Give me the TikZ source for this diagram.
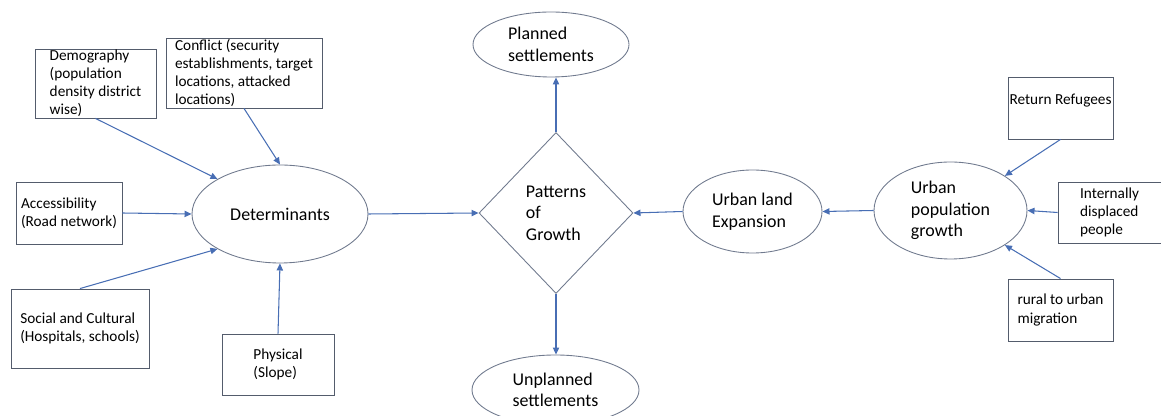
\documentclass[tikz,border=0pt]{standalone}
\usepackage{fontspec}
\setmainfont{Carlito}
\usepackage{tikz}
\usetikzlibrary{shapes.geometric}
\usetikzlibrary{arrows.meta}
\definecolor{boxline}{RGB}{84,92,108}
\definecolor{ovalline}{RGB}{112,122,142}
\definecolor{flowblue}{RGB}{72,110,180}

\begin{document}
\begin{tikzpicture}[
  flow/.style={draw=flowblue,line width=0.6pt,-{Triangle[length=4pt,width=3.6pt]}},
  factor/.style={draw=boxline,line width=0.5pt,rectangle,inner sep=0pt,align=left,
    font=\fontsize{8.7}{10.3}\selectfont},
  oval/.style={draw=ovalline,line width=0.5pt,ellipse,inner sep=0pt,align=left,
    font=\fontsize{10.2}{12.3}\selectfont},
  choice/.style={draw=ovalline,line width=0.5pt,diamond,inner sep=0pt,align=left,
    font=\fontsize{10.2}{12.3}\selectfont}
]
  \useasboundingbox (0,0) rectangle (23.22,8.32);

  \node[factor, minimum width=2.42cm, minimum height=1.38cm] (demog) at (1.91, 6.65)
    {Demography\\(population\\density district\\wise)};
  \node[factor, minimum width=3.12cm, minimum height=1.40cm] (conflict) at (4.88, 6.86)
    {Conflict (security\\establishments, target\\locations, attacked\\locations)};
  \node[factor, minimum width=2.12cm, minimum height=1.24cm] (access) at (1.38, 4.06)
    {Accessibility\\(Road network)};
  \node[factor, minimum width=2.76cm, minimum height=1.58cm] (social) at (1.60, 1.75)
    {Social and Cultural\\(Hospitals, schools)};
  \node[factor, minimum width=2.24cm, minimum height=1.22cm] (phys) at (5.56, 1.03)
    {Physical\\(Slope)};

  \node[oval, minimum width=3.52cm, minimum height=1.96cm] (det) at (5.60, 4.04)
    {Determinants};
  \node[choice, minimum width=3.08cm, minimum height=3.22cm] (pat) at (11.12, 4.06)
    {Patterns\\of\\Growth};
  \node[oval, minimum width=3.12cm, minimum height=1.30cm] (plan) at (11.02, 7.43)
    {Planned\\settlements};
  \node[oval, minimum width=3.34cm, minimum height=1.40cm] (unplan) at (11.11, 0.52)
    {Unplanned\\settlements};
  \node[oval, minimum width=2.78cm, minimum height=1.66cm] (land) at (15.05, 4.09)
    {Urban land\\Expansion};
  \node[oval, minimum width=3.06cm, minimum height=1.94cm] (pop) at (19.01, 4.11)
    {Urban\\population\\growth};

  \node[factor, minimum width=2.10cm, minimum height=1.24cm] (ret) at (21.21, 6.16)
    {Return Refugees\\ \mbox{}};
  \node[factor, minimum width=2.06cm, minimum height=1.22cm] (idp) at (22.19, 4.07)
    {Internally\\displaced\\people};
  \node[factor, minimum width=2.10cm, minimum height=1.24cm] (rural) at (21.21, 2.12)
    {rural to urban\\migration};

  \draw[flow] (demog.south) -- (det.north west);
  \draw[flow] (conflict.south) -- (det.north);
  \draw[flow] (access.east) -- (det.west);
  \draw[flow] (social.north) -- (det.south west);
  \draw[flow] (phys.north) -- (det.south);
  \draw[flow] (det.east) -- (pat.west);
  \draw[flow] (pat.north) -- (pat.north |- plan.south);
  \draw[flow] (pat.south) -- (pat.south |- unplan.north);
  \draw[flow] (land.west) -- (pat.east);
  \draw[flow] (pop.west) -- (land.east);
  \draw[flow] (ret.south) -- (pop.north east);
  \draw[flow] (idp.west) -- (pop.east);
  \draw[flow] (rural.north) -- (pop.south east);
\end{tikzpicture}
\end{document}
